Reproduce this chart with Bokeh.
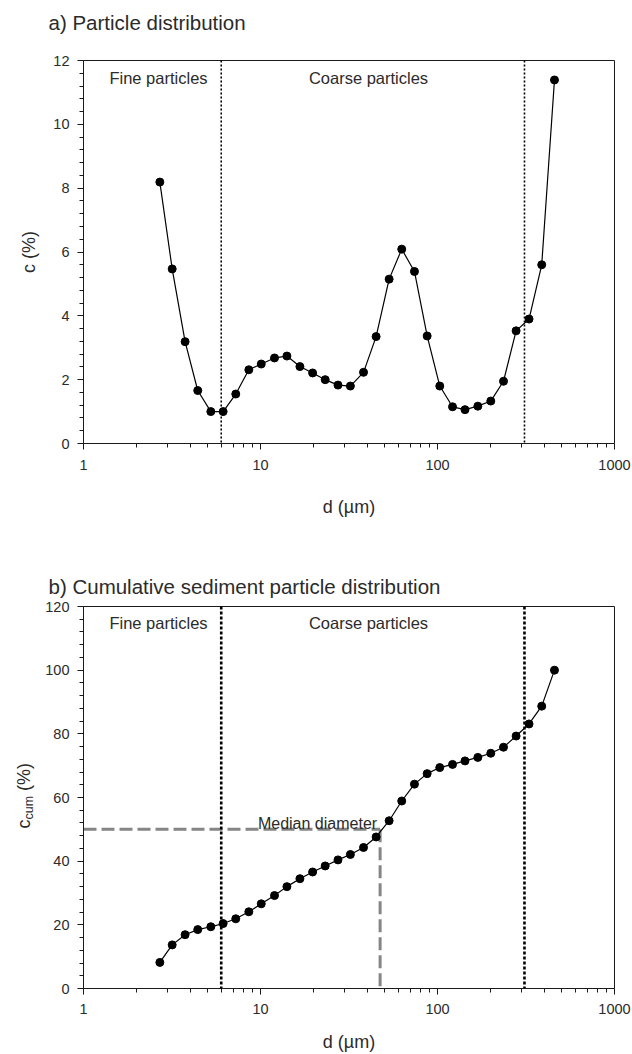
import math
from bokeh.plotting import figure
from bokeh.models import Span, Label, FixedTicker, SingleIntervalTicker, Range1d, NumeralTickFormatter
from bokeh.layouts import column
from bokeh.embed import file_html
from bokeh.resources import INLINE

# ---------------- data ----------------
d_um = [2.70, 3.17, 3.75, 4.42, 5.24, 6.15, 7.25, 8.59, 10.1, 12.0, 14.1, 16.7, 19.7, 23.2,
        27.4, 32.2, 38.2, 45.0, 53.3, 62.8, 74.1, 87.4, 103.0, 121.6, 143.0, 169.0, 200.0,
        236.0, 278.0, 329.0, 388.0, 458.0]
c_pct = [8.19, 5.47, 3.19, 1.66, 1.00, 1.00, 1.55, 2.31, 2.49, 2.68, 2.74, 2.41, 2.21, 2.00,
         1.83, 1.80, 2.23, 3.35, 5.15, 6.09, 5.39, 3.37, 1.80, 1.15, 1.06, 1.17, 1.33,
         1.95, 3.53, 3.90, 5.60, 11.39]
c_cum = [8.2, 13.7, 16.9, 18.5, 19.4, 20.4, 21.9, 24.1, 26.6, 29.2, 32.0, 34.5, 36.6, 38.5,
         40.4, 42.1, 44.3, 47.6, 52.7, 58.9, 64.2, 67.5, 69.4, 70.4, 71.5, 72.6, 73.9,
         75.8, 79.3, 83.1, 88.7, 100.0]
fine_limit = 6.0
coarse_limit = 310.0
median_d = 47.4
median_c = 50.0
x_ticks = [1, 10, 100, 1000]
x_min, x_max = 1, 1000

FONT = "Liberation Sans"
TXT = "#2b2b2b"
AX = "#1a1a1a"

BORDER_L, BORDER_R = 83, 18
FRAME_W = 632 - BORDER_L - BORDER_R
PX_PER_DECADE = FRAME_W / math.log10(x_max / x_min)


def make_fig(min_top, min_bottom, ymax, yint, dot_dash, dot_width):
    p = figure(width=632, height=527, x_axis_type="log",
               x_range=Range1d(x_min, x_max), y_range=Range1d(0, ymax),
               output_backend="svg", toolbar_location=None,
               min_border_left=BORDER_L, min_border_right=BORDER_R,
               min_border_top=min_top, min_border_bottom=min_bottom)
    p.grid.visible = False
    p.outline_line_color = AX
    p.outline_line_width = 1
    p.background_fill_color = "white"
    p.border_fill_color = "white"

    minor = [m * 10 ** k for k in range(3) for m in range(2, 10)]
    p.xaxis.ticker = FixedTicker(ticks=x_ticks, minor_ticks=minor)
    p.xaxis.formatter = NumeralTickFormatter(format="0")
    p.yaxis.ticker = SingleIntervalTicker(interval=yint, num_minor_ticks=5)
    for ax in (p.xaxis[0], p.yaxis[0]):
        ax.axis_line_color = AX
        ax.major_tick_line_color = AX
        ax.minor_tick_line_color = AX
        ax.major_tick_in = 0
        ax.major_tick_out = 6
        ax.minor_tick_in = 0
        ax.minor_tick_out = 4
        ax.major_label_text_font = FONT
        ax.major_label_text_font_size = "14.5px"
        ax.major_label_text_color = TXT
        ax.axis_label_text_font = FONT
        ax.axis_label_text_font_size = "18px"
        ax.axis_label_text_font_style = "normal"
        ax.axis_label_text_color = TXT
    p.xaxis.major_label_standoff = 10
    p.yaxis.major_label_standoff = 8
    p.xaxis.axis_label = "d (\u00b5m)"

    for loc in (fine_limit, coarse_limit):
        p.add_layout(Span(location=loc, dimension="height", line_color="black",
                          line_dash=dot_dash, line_width=dot_width))
    return p


def region_labels(p, frame_h, dy):
    p.add_layout(Label(x=75, y=frame_h - dy, x_units="screen", y_units="screen",
                       text="Fine particles", text_align="center", text_baseline="middle",
                       text_font=FONT, text_font_size="16.5px", text_color=TXT))
    p.add_layout(Label(x=285, y=frame_h - dy, x_units="screen", y_units="screen",
                       text="Coarse particles", text_align="center", text_baseline="middle",
                       text_font=FONT, text_font_size="16.5px", text_color=TXT))


def title_label(p, dy, text):
    p.add_layout(Label(x=-35, y=dy, x_units="screen", y_units="screen",
                       text=text, text_align="left", text_baseline="middle",
                       text_font=FONT, text_font_size="20.5px", text_color=TXT), "above")


# ---------------- a) ----------------
p1 = make_fig(60, 84, 12, 2, "2 2", 1.6)
p1.yaxis.axis_label = "c (%)"
p1.yaxis.axis_label_standoff = 11
p1.xaxis.axis_label_standoff = 24
p1.line(d_um, c_pct, line_color="black", line_width=1.2)
p1.scatter(d_um, c_pct, size=8, marker="circle", fill_color="black", line_color="black")
region_labels(p1, 383, 17)
title_label(p1, 38, "a) Particle distribution")

# ---------------- b) ----------------
FRAME_H2 = 382
YMAX2 = 120
p2 = make_fig(79, 66, YMAX2, 20, "3 2", 2.6)
p2.xaxis.major_label_standoff = 9
p2.xaxis.axis_label_standoff = 15
p2.line([x_min, median_d], [median_c, median_c], line_color="#858585", line_width=3,
        line_dash="13 5")
p2.line([median_d, median_d], [median_c, 0], line_color="#858585", line_width=3,
        line_dash="13 5")
p2.line(d_um, c_cum, line_color="black", line_width=1.2)
p2.scatter(d_um, c_cum, size=8, marker="circle", fill_color="black", line_color="black")
region_labels(p2, FRAME_H2, 16)
p2.add_layout(Label(x=median_d, y=median_c, x_offset=-3, y_offset=6,
                    text="Median diameter", text_align="right", text_baseline="alphabetic",
                    text_font=FONT, text_font_size="16px", text_color=TXT))
title_label(p2, 20, "b) Cumulative sediment particle distribution")


# rotated y label c_cum (%) -- placed by pixel offsets from the frame's bottom-left corner
def px_to_x(dx):
    return x_min * 10 ** (dx / PX_PER_DECADE)


def px_to_y(dy):
    return dy * YMAX2 / FRAME_H2


half_pi = math.pi / 2
p2.add_layout(Label(x=px_to_x(-60), y=px_to_y(160), angle=half_pi,
                    text="c\u2002\u2002\u2002\u200a(%)", text_align="left",
                    text_baseline="alphabetic", text_font=FONT, text_font_size="18px",
                    text_color=TXT), "left")
p2.add_layout(Label(x=px_to_x(-55), y=px_to_y(169), angle=half_pi,
                    text="cum", text_align="left", text_baseline="alphabetic",
                    text_font=FONT, text_font_size="12.5px", text_color=TXT), "left")

layout = column(p1, p2)
open("out.html", "w").write(file_html(layout, INLINE))
